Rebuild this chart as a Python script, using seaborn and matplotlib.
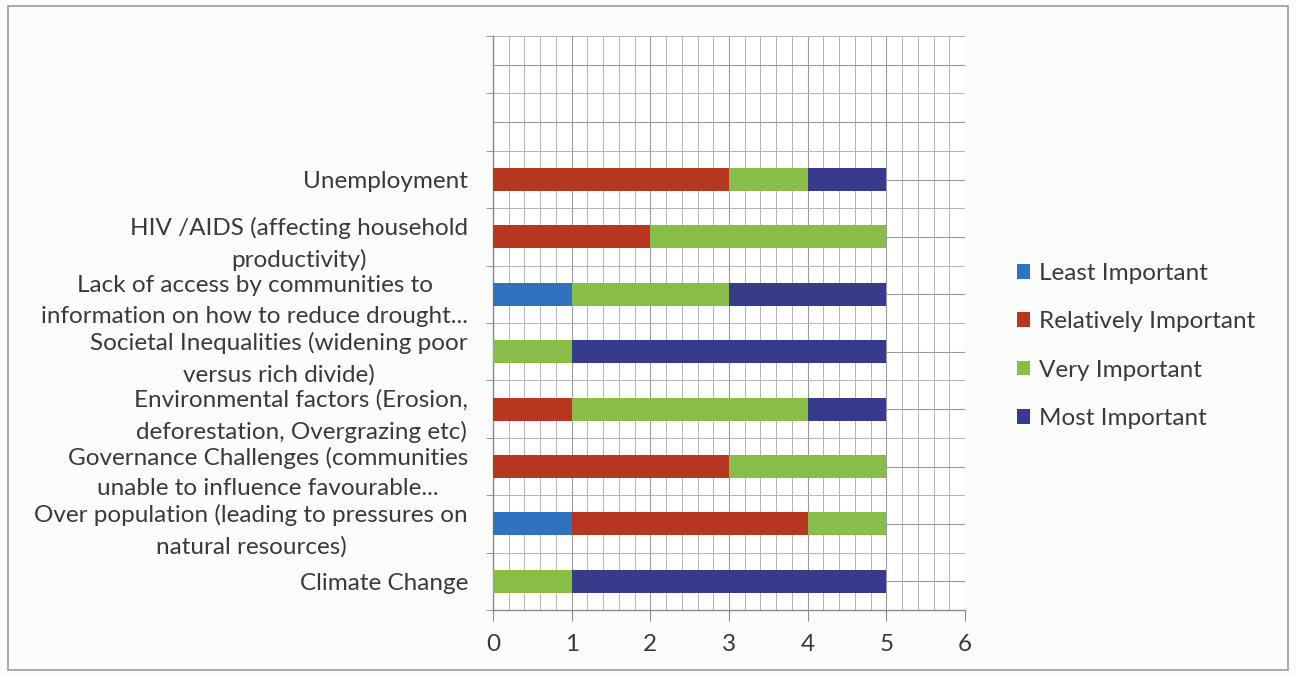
import matplotlib
matplotlib.use("Agg")
import matplotlib.pyplot as plt
from matplotlib.patches import Patch, Rectangle
from matplotlib.ticker import MultipleLocator
import pandas as pd
import seaborn as sns

# categories, top to bottom
categories = [
    "Unemployment",
    "HIV /AIDS (affecting household\nproductivity)",
    "Lack of access by communities to\ninformation on how to reduce drought...",
    "Societal Inequalities (widening poor\nversus rich divide)",
    "Environmental factors (Erosion,\ndeforestation, Overgrazing etc)",
    "Governance Challenges (communities\nunable to influence favourable...",
    "Over population (leading to pressures on\nnatural resources)",
    "Climate Change",
]
least_important = [0, 0, 1, 0, 0, 0, 1, 0]
relatively_important = [3, 2, 0, 0, 1, 3, 3, 0]
very_important = [1, 3, 2, 1, 3, 2, 1, 1]
most_important = [1, 0, 2, 4, 1, 0, 0, 4]
series_names = ["Least Important", "Relatively Important", "Very Important", "Most Important"]
colors = ["#2f72bd", "#b6361f", "#88bd47", "#363b8c"]

sns.set_style("white")
plt.rcParams['font.family'] = ['Lato', 'DejaVu Sans']

df = pd.DataFrame({
    "cat": categories,
    "s1": least_important,
    "s2": relatively_important,
    "s3": very_important,
    "s4": most_important,
})
df["c1"] = df["s1"]
df["c2"] = df["c1"] + df["s2"]
df["c3"] = df["c2"] + df["s3"]
df["c4"] = df["c3"] + df["s4"]

fig = plt.figure(figsize=(12.96, 6.75), dpi=100)
fig.patch.set_facecolor("#fcfcfc")
ax = fig.add_axes([493 / 1296, 1 - 610 / 675, 472 / 1296, 574 / 675])
ax.set_facecolor("white")

# stacked bars: draw cumulative totals from the largest down
for col, c in zip(["c4", "c3", "c2", "c1"], colors[::-1]):
    sns.barplot(data=df, x=col, y="cat", order=categories, color=c,
                orient="h", width=0.4, saturation=1, linewidth=0, ax=ax, zorder=3)

ax.set_xlim(0, 6)
ax.set_ylim(len(categories) - 0.5, -2.5)
ax.set_xlabel("")
ax.set_ylabel("")

ax.set_yticks(range(-2, len(categories)))
ax.set_yticklabels(["", ""] + categories)
ax.yaxis.set_minor_locator(MultipleLocator(1, offset=0.5))
ax.xaxis.set_major_locator(MultipleLocator(1))
ax.xaxis.set_minor_locator(MultipleLocator(0.2))

ax.grid(True, which="major", color="#9a9a9a", lw=0.8, zorder=0)
ax.grid(True, which="minor", color="#b4b4b4", lw=0.7, zorder=0)
ax.set_axisbelow(True)

for s in ["top", "right"]:
    ax.spines[s].set_visible(False)
for s in ["left", "bottom"]:
    ax.spines[s].set_color("#8a8a8a")
    ax.spines[s].set_linewidth(1.0)

ax.tick_params(axis="y", which="major", length=0, pad=18, labelsize=17.5, labelcolor="#3a3a3a")
ax.tick_params(axis="y", which="minor", length=5, color="#8a8a8a", left=True)
ax.tick_params(axis="x", which="major", length=8, color="#8a8a8a", pad=9, labelsize=17.5, labelcolor="#3a3a3a", bottom=True)
ax.tick_params(axis="x", which="minor", length=0)

for t in ax.get_yticklabels():
    t.set_multialignment("center")
    t.set_linespacing(1.55)

handles = [Patch(facecolor=c, edgecolor="none") for c in colors]
fig.legend(handles, series_names, loc="center left", bbox_to_anchor=(995 / 1296, 1 - 346 / 675),
           frameon=False, fontsize=17.5, labelspacing=1.13, handlelength=0.55, handleheight=0.55,
           handletextpad=0.35, labelcolor="#3a3a3a")

fig.add_artist(Rectangle((8 / 1296, 5 / 675), 1280 / 1296, 664 / 675, transform=fig.transFigure,
                         fill=False, edgecolor="#9a9a9a", lw=1.2))

fig.savefig("out.png", dpi=100, facecolor=fig.get_facecolor())
